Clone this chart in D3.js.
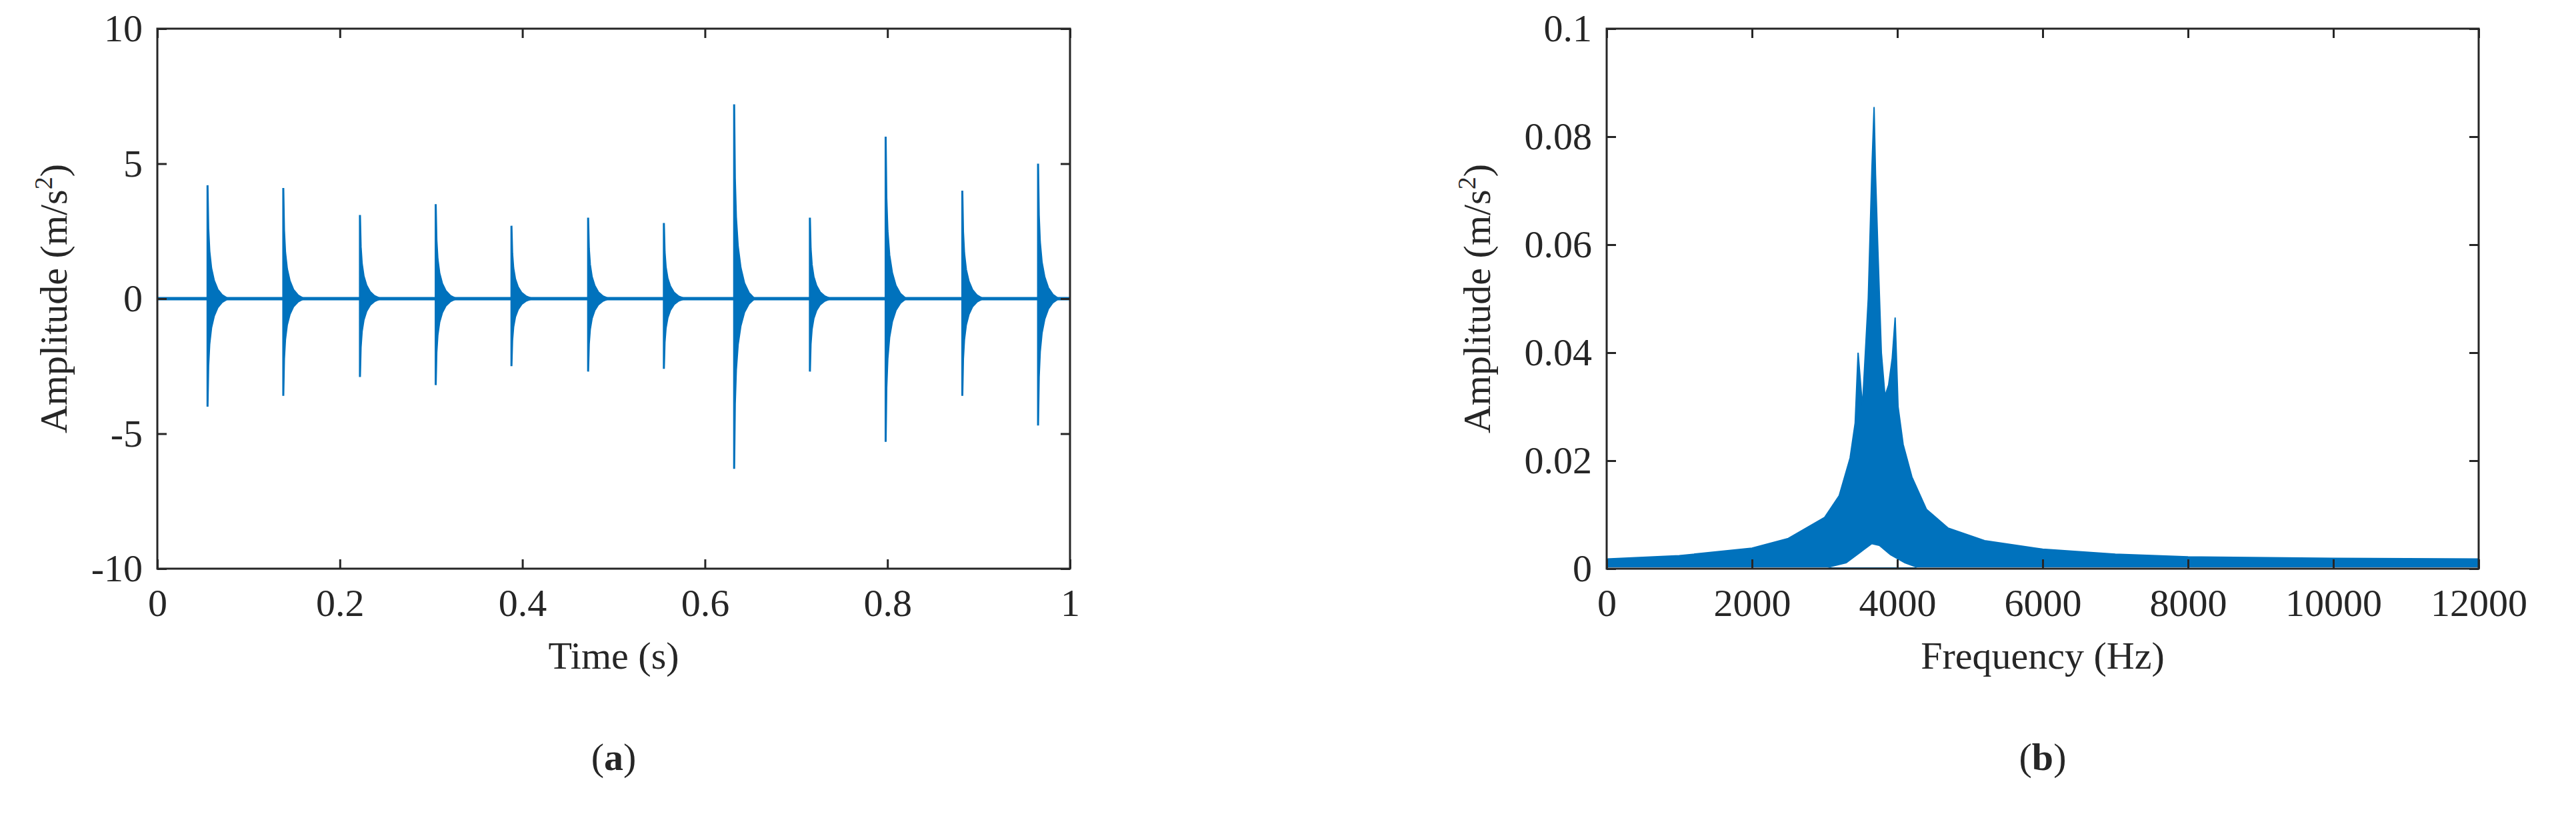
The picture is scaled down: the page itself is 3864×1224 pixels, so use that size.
<!DOCTYPE html><html><head><meta charset="utf-8">
<script src="https://cdn.jsdelivr.net/npm/d3@7"></script>
<style>body{margin:0;background:#fff}svg{display:block}text{font-family:"Liberation Serif","DejaVu Serif",serif;fill:#262626}</style>
</head><body><svg id="c" width="3864" height="1224"></svg>
<script>
// --- data: panel (a) ---
const impulseTimes=[0.055,0.138,0.222,0.305,0.388,0.472,0.555,0.632,0.715,0.798,0.882,0.965];
const impulsePos=[4.2,4.1,3.1,3.5,2.7,3.0,2.8,7.2,3.0,6.0,4.0,5.0];
const impulseNeg=[-4.0,-3.6,-2.9,-3.2,-2.5,-2.7,-2.6,-6.3,-2.7,-5.3,-3.6,-4.7];
const decayOffsets=[0,0.0008,0.002,0.004,0.007,0.011,0.016,0.022];
const decayFractions=[1,0.62,0.42,0.27,0.16,0.08,0.03,0];
const timeTicks=[0,0.2,0.4,0.6,0.8,1];
const ampTicks=[-10,-5,0,5,10];
// --- data: panel (b) ---
const freqUpper=[0,1000,2000,2500,3000,3200,3350,3420,3460,3520,3600,3650,3680,3700,3730,3780,3830,3880,3930,3970,4010,4080,4200,4400,4700,5200,6000,7000,8000,10000,12000];
const ampUpper=[0.0018,0.0024,0.0038,0.0056,0.0095,0.0135,0.0205,0.0270,0.0400,0.0300,0.0500,0.0740,0.0855,0.0730,0.0600,0.0400,0.0320,0.0340,0.0390,0.0465,0.0300,0.0230,0.0170,0.0110,0.0075,0.0052,0.0036,0.0027,0.0022,0.0019,0.0018];
const freqLower=[0,3000,3300,3500,3650,3750,3900,4100,4300,12000];
const ampLower=[0,0,0.001,0.003,0.0045,0.0042,0.0025,0.001,0,0];
const freqTicks=[0,2000,4000,6000,8000,10000,12000];
const specTicks=[0,0.02,0.04,0.06,0.08,0.1];

const svg=d3.select('#c'), blue='#0072BD', ink='#262626', fs=58;
const fmt=f=>(v=>f(v).replace('−','-'));
function frame(x0,x1,y0,y1,xs,ys,xt,yt,xfmt,yfmt,xlab,ylab,cap,ylx){
  const g=svg.append('g');
  const ax=d3.axisBottom(xs).tickValues(xt).tickSize(-14).tickPadding(30).tickFormat(xfmt);
  const ay=d3.axisLeft(ys).tickValues(yt).tickSize(-14).tickPadding(22).tickFormat(yfmt);
  g.append('g').attr('transform',`translate(0,${y1})`).call(ax);
  g.append('g').attr('transform',`translate(${x0},0)`).call(ay);
  g.append('g').attr('transform',`translate(0,${y0})`).call(d3.axisTop(xs).tickValues(xt).tickSize(-14).tickFormat(''));
  g.append('g').attr('transform',`translate(${x1},0)`).call(d3.axisRight(ys).tickValues(yt).tickSize(-14).tickFormat(''));
  g.selectAll('.domain').remove();
  g.selectAll('.tick line').attr('stroke',ink).attr('stroke-width',3);
  g.selectAll('.tick text').attr('font-size',fs).style('font-family','"Liberation Serif",serif').attr('fill',ink);
  g.append('rect').attr('x',x0).attr('y',y0).attr('width',x1-x0).attr('height',y1-y0).attr('fill','none').attr('stroke',ink).attr('stroke-width',3);
  g.append('text').attr('x',(x0+x1)/2).attr('y',y1+150).attr('text-anchor','middle').attr('font-size',fs).text(xlab);
  const t=g.append('text').attr('transform',`translate(${ylx},${(y0+y1)/2}) rotate(-90)`).attr('text-anchor','middle').attr('font-size',fs);
  t.append('tspan').text(ylab+' (m/s');t.append('tspan').attr('dy',-22).attr('font-size',38).text('2');t.append('tspan').attr('dy',22).text(')');
  const c=g.append('text').attr('x',(x0+x1)/2).attr('y',1155).attr('text-anchor','middle').attr('font-size',fs);
  c.append('tspan').text('(');c.append('tspan').attr('font-weight','bold').text(cap);c.append('tspan').text(')');
  return g;
}
// panel a
const ax0=236,ax1=1605,ay0=43,ay1=853;
const xa=d3.scaleLinear().domain([0,1]).range([ax0,ax1]);
const ya=d3.scaleLinear().domain([-10,10]).range([ay1,ay0]);
const pa=svg.append('g');
pa.append('line').attr('x1',xa(0)).attr('x2',xa(1)).attr('y1',ya(0)).attr('y2',ya(0)).attr('stroke',blue).attr('stroke-width',5);
impulseTimes.forEach((t,i)=>{
  const pts=decayOffsets.map((o,k)=>({t:t+o,hi:impulsePos[i]*decayFractions[k],lo:impulseNeg[i]*decayFractions[k]}));
  pa.append('path').datum(pts).attr('fill',blue).attr('stroke',blue).attr('stroke-width',3)
    .attr('d',d3.area().x(d=>xa(d.t)).y0(d=>ya(d.lo)).y1(d=>ya(d.hi)));
});
frame(ax0,ax1,ay0,ay1,xa,ya,timeTicks,ampTicks,fmt(d3.format('~g')),fmt(d3.format('~g')),'Time (s)','Amplitude','a',100);
// panel b
const bx0=2410,bx1=3718,by0=43,by1=853;
const xb=d3.scaleLinear().domain([0,12000]).range([bx0,bx1]);
const yb=d3.scaleLinear().domain([0,0.1]).range([by1,by0]);
const spec=freqUpper.map((f,i)=>({f,hi:ampUpper[i]}));
svg.append('path').datum(spec).attr('fill',blue).attr('stroke',blue).attr('stroke-width',2)
  .attr('d',d3.area().x(d=>xb(d.f)).y0(yb(0)).y1(d=>yb(d.hi)));
svg.append('path').datum(freqLower.map((f,i)=>({f,v:ampLower[i]}))).attr('fill','#fff')
  .attr('d',d3.area().x(d=>xb(d.f)).y0(yb(0)-2).y1(d=>yb(d.v)));
frame(bx0,bx1,by0,by1,xb,yb,freqTicks,specTicks,d3.format('d'),d3.format('~g'),'Frequency (Hz)','Amplitude','b',2235);
</script></body></html>
